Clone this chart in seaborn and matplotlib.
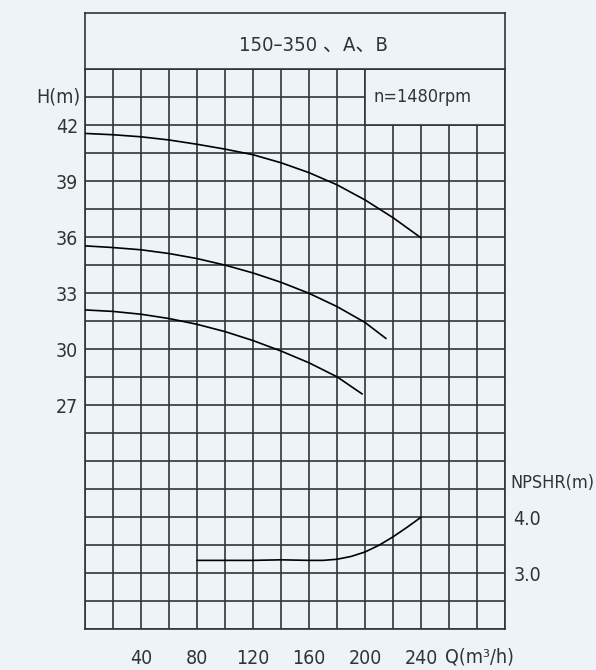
import numpy as np
import pandas as pd
import matplotlib
matplotlib.use("Agg")
import matplotlib.pyplot as plt
from matplotlib.patches import Rectangle
import seaborn as sns

# ---- data ----
q_top = [0, 20, 40, 60, 80, 100, 120, 140, 160, 180, 200, 220, 240]
h_top = [41.55, 41.48, 41.37, 41.2, 40.97, 40.71, 40.41, 39.98, 39.45, 38.8, 37.99, 37.04, 35.96]

q_mid = [0, 20, 40, 60, 80, 100, 120, 140, 160, 180, 200, 215]
h_mid = [35.53, 35.44, 35.32, 35.12, 34.85, 34.5, 34.08, 33.58, 32.99, 32.28, 31.43, 30.57]

q_low = [0, 20, 40, 60, 80, 100, 120, 140, 160, 180, 198]
h_low = [32.1, 32.02, 31.87, 31.64, 31.33, 30.94, 30.46, 29.9, 29.27, 28.52, 27.6]

q_npsh = [80, 100, 120, 140, 160, 170, 180, 190, 200, 210, 220, 230, 240]
npsh = [3.23, 3.23, 3.23, 3.24, 3.23, 3.23, 3.25, 3.3, 3.38, 3.5, 3.65, 3.82, 4.0]

x_tick_labels = [40, 80, 120, 160, 200, 240]
h_tick_labels = [27, 30, 33, 36, 39, 42]
npsh_tick_labels = [3.0, 4.0]

title_text = "150\u2013350 \u3001A\u3001B"
speed_text = "n=1480rpm"

# ---- style ----
sns.set_theme(style="white")
BG = "#edf3f7"
GRID = "#333333"
TXT = "#333333"
FONT = ["DejaVu Sans"]
plt.rcParams["font.family"] = FONT
plt.rcParams["font.stretch"] = "condensed"
FS = 14

fig = plt.figure(figsize=(5.96, 6.70), dpi=100, facecolor=BG)
W, H = 596, 670
L, R, T, B = 85, 505, 69, 629.3
ax = fig.add_axes([L / W, (H - B) / H, (R - L) / W, (B - T) / H])
ax.set_facecolor(BG)

df = pd.concat([
    pd.DataFrame({"Q": q_top, "H": h_top, "curve": "top"}),
    pd.DataFrame({"Q": q_mid, "H": h_mid, "curve": "A"}),
    pd.DataFrame({"Q": q_low, "H": h_low, "curve": "B"}),
], ignore_index=True)
sns.lineplot(data=df, x="Q", y="H", units="curve", estimator=None, color="black",
             linewidth=1.2, ax=ax, zorder=3, sort=False)

ax.set_xlim(0, 300)
ax.set_ylim(15, 45)
ax.set_xticks(x_tick_labels)
ax.set_xticklabels([str(v) for v in x_tick_labels])
ax.set_xticks(np.arange(0, 301, 20), minor=True)
ax.set_yticks(h_tick_labels)
ax.set_yticklabels([str(v) for v in h_tick_labels])
ax.set_yticks(np.arange(15, 45.01, 1.5), minor=True)
ax.set_axisbelow(True)
ax.grid(True, which="both", color=GRID, linewidth=1.2)
ax.tick_params(axis="both", which="both", length=0)
ax.tick_params(axis="x", pad=14, labelsize=FS, labelcolor=TXT)
ax.tick_params(axis="y", pad=5, labelsize=FS, labelcolor=TXT)
ax.set_xlabel("")
ax.set_ylabel("")
for s in ax.spines.values():
    s.set_visible(True)
    s.set_color(GRID)
    s.set_linewidth(1.2)

# box holding the speed note (no grid inside)
ax.add_patch(Rectangle((200, 42), 100, 3, facecolor=BG, edgecolor=GRID,
                       linewidth=1.2, zorder=1))
ax.text(206, 43.5, speed_text, ha="left", va="center", fontsize=FS - 1, color=TXT, zorder=4)
ax.text(-3, 43.5, "H(m)", ha="right", va="center", fontsize=FS, color=TXT, clip_on=False)
ax.text(257, -0.05, "Q(m\u00b3/h)", ha="left", va="center", fontsize=FS, color=TXT,
        clip_on=False, transform=ax.get_xaxis_transform())

# NPSHR axis
ax2 = ax.twinx()
ax2.set_ylim(2.0, 12.0)
sns.lineplot(x=q_npsh, y=npsh, color="black", linewidth=1.2, ax=ax2, zorder=3)
ax2.set_yticks(npsh_tick_labels)
ax2.set_yticklabels([f"{v:.1f}" for v in npsh_tick_labels])
ax2.tick_params(axis="y", length=0, pad=6, labelsize=FS, labelcolor=TXT)
ax2.set_ylabel("")
for s in ax2.spines.values():
    s.set_visible(False)
ax2.text(1.012, 4.62, "NPSHR(m)", ha="left", va="center", fontsize=FS - 1, color=TXT,
         transform=ax2.get_yaxis_transform(), clip_on=False)

# title box
tax = fig.add_axes([L / W, (H - T) / H, (R - L) / W, (T - 13.3) / H])
tax.set_facecolor(BG)
tax.set_xticks([])
tax.set_yticks([])
for s in tax.spines.values():
    s.set_visible(True)
    s.set_color(GRID)
    s.set_linewidth(1.2)
tax.text(0.545, 0.42, title_text, ha="center", va="center", fontsize=FS + 0.5, color=TXT,
         family=["DejaVu Sans", "Noto Sans CJK SC"], transform=tax.transAxes)

fig.savefig("out.png", dpi=100, facecolor=BG)
